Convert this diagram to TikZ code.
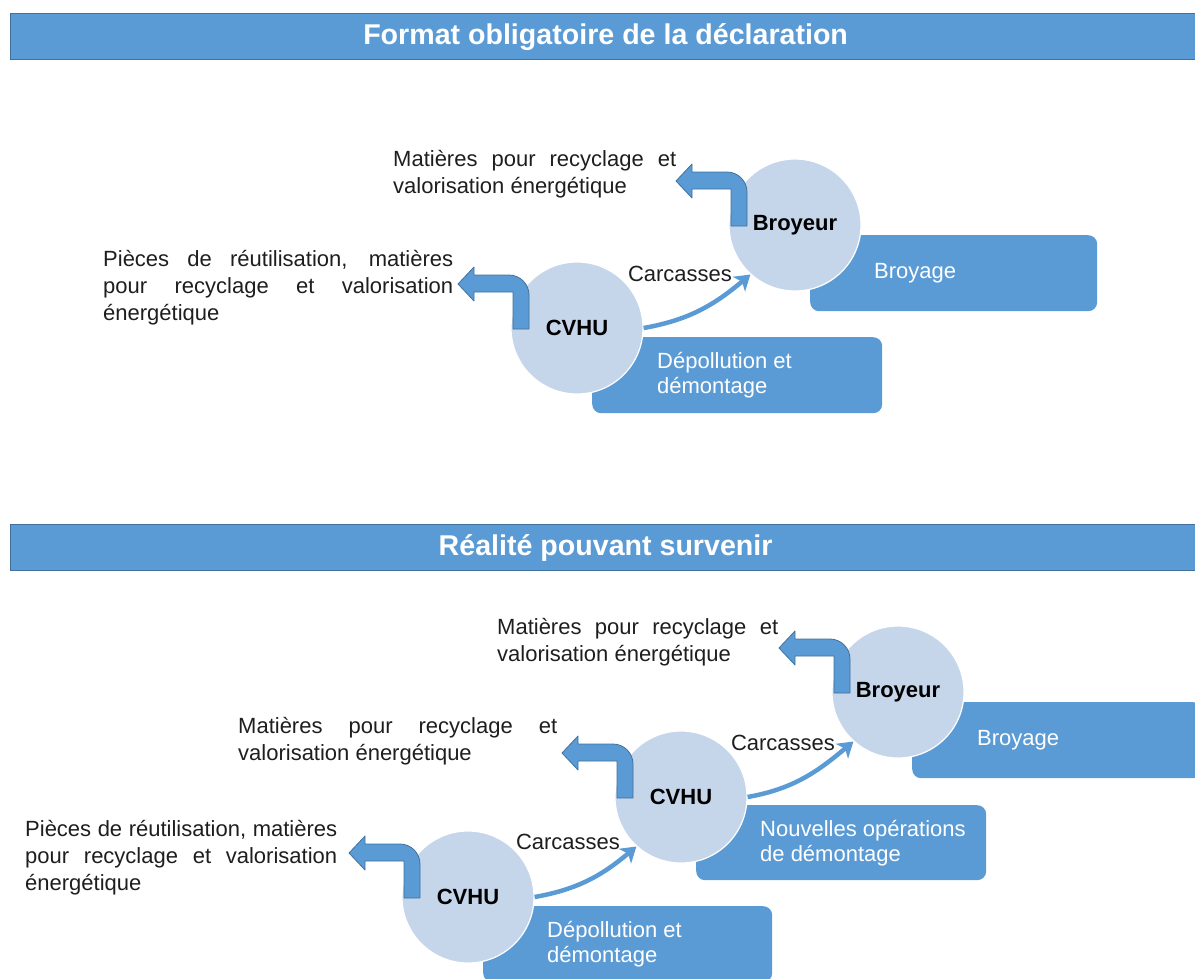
\documentclass[tikz,border=0pt]{standalone}
\usepackage{fontspec}
\setmainfont{Liberation Sans}
\usepackage{xcolor}
\usepackage{tikz}
\usetikzlibrary{shapes.misc, arrows.meta}
\usetikzlibrary{calc,positioning}

\definecolor{bleu}{RGB}{91,155,213}
\definecolor{bleufonce}{RGB}{65,113,156}
\definecolor{bleuclair}{RGB}{197,213,234}
\definecolor{gristexte}{RGB}{30,30,30}

% bent arrow leaving a circle (#1 = name of the circle)
\newcommand{\flecheSortie}[1]{%
  \draw[fleche sortie, shift={($(#1.center)+(-48,-1)$)}]
    (0,0) -- (0,34) .. controls (0,45) and (-9,54) .. (-20,54) -- (-55,54)
    -- (-55,62) -- (-71,45) -- (-55,28) -- (-55,37) -- (-16,37) -- (-16,0) -- cycle;}

\begin{document}
\begin{tikzpicture}[
	%	style def
    x=1pt, y=1pt,
    titre/.style={rectangle, fill=bleu, draw=bleufonce, line width=1.2pt, minimum width=1190pt, minimum height=46pt, anchor=north west, text=white, font=\fontsize{28.6}{32}\selectfont\bfseries},
    boite/.style={rectangle, rounded corners=9pt, fill=bleu, minimum height=76pt, anchor=north west, inner sep=0pt},
    texte boite/.style={text=white, align=left, anchor=west, inner sep=0pt, font=\fontsize{22}{25}\selectfont},
    rond/.style={circle, fill=bleuclair, draw=white, line width=1.2pt, minimum size=132pt, inner sep=0pt, font=\fontsize{22}{26}\selectfont\bfseries},
    texte/.style={align=left, anchor=west, inner sep=0pt, text=gristexte, font=\fontsize{22}{27}\selectfont},
    carcasse/.style={bleu, line width=4.5pt, -{Stealth[length=15pt,width=19pt,inset=4pt]}},
    fleche sortie/.style={fill=bleu, draw=bleufonce, line width=0.8pt, line join=round}
    ]
    \useasboundingbox (0,0) rectangle (1195,-978);
    \clip (0,0) rectangle (1195,-978);

	% title bars
    \node[titre] (titreA) at (10,-13) {Format obligatoire de la déclaration};
    \node[titre] (titreB) at (10,-524) {Réalité pouvant survenir};

	% format obligatoire : boxes
    \node[boite, minimum width=290pt] (depolA) at (592,-337) {};
    \node[texte boite] (depolAtxt) at ([xshift=65pt]depolA.west) {Dépollution et\\démontage};
    \node[boite, minimum width=287pt] (broyageA) at (810,-235) {};
    \node[texte boite] (broyageAtxt) at ([xshift=64pt]broyageA.west) {Broyage};

	% circles
    \node[rond] (cvhuA) at (577,-328) {CVHU};
    \node[rond] (broyA) at (795,-225) {Broyeur};
    \flecheSortie{cvhuA}
    \flecheSortie{broyA}

    \draw[carcasse] (cvhuA.east) to[out=10,in=220] (broyA.228);
    \node[text=gristexte, font=\fontsize{22}{26}\selectfont] (carcA) at (680,-274) {Carcasses};

    \node[texte] (matA) at (393,-174) {\makebox[283pt][s]{Matières pour recyclage et}\\valorisation énergétique};
    \node[texte] (piecesA) at (103,-288) {\makebox[350pt][s]{Pièces de réutilisation, matières}\\\makebox[350pt][s]{pour recyclage et valorisation}\\énergétique};

	% realite : boxes
    \node[boite, minimum width=290pt] (broyageB) at (912,-702) {};
    \node[texte boite] (broyageBtxt) at ([xshift=65pt]broyageB.west) {Broyage};
    \node[boite, minimum width=290pt, minimum height=75pt] (nouvB) at (696,-805) {};
    \node[texte boite] (nouvBtxt) at ([xshift=64pt]nouvB.west) {Nouvelles opérations\\de démontage};
    \node[boite, minimum width=289pt] (depolB) at (483,-906) {};
    \node[texte boite] (depolBtxt) at ([xshift=64pt]depolB.west) {Dépollution et\\démontage};

	% circles
    \node[rond] (broyB) at (898,-692) {Broyeur};
    \node[rond] (cvhuB) at (681,-797) {CVHU};
    \node[rond] (cvhuC) at (468,-897) {CVHU};
    \flecheSortie{broyB}
    \flecheSortie{cvhuB}
    \flecheSortie{cvhuC}

    \draw[carcasse] (cvhuC.east) to[out=10,in=220] (cvhuB.228);
    \draw[carcasse] (cvhuB.east) to[out=10,in=220] (broyB.228);
    \node[text=gristexte, font=\fontsize{22}{26}\selectfont] (carcB) at (568,-842) {Carcasses};
    \node[text=gristexte, font=\fontsize{22}{26}\selectfont] (carcC) at (783,-743) {Carcasses};

    \node[texte] (matB) at (497,-642) {\makebox[281pt][s]{Matières pour recyclage et}\\valorisation énergétique};
    \node[texte] (matC) at (238,-741) {\makebox[319pt][s]{Matières pour recyclage et}\\valorisation énergétique};
    \node[texte] (piecesB) at (25,-858) {\makebox[312pt][s]{Pièces de réutilisation, matières}\\\makebox[312pt][s]{pour recyclage et valorisation}\\énergétique};
\end{tikzpicture}
\end{document}
